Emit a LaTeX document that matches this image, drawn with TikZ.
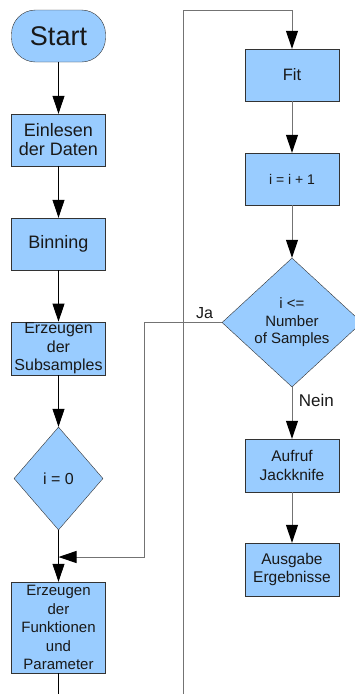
\documentclass[tikz,border=0pt]{standalone}
\usepackage{fontspec}
\setmainfont{Liberation Sans}
\usetikzlibrary{shapes.geometric,arrows.meta}
\definecolor{boxblue}{HTML}{99CCFF}
\begin{document}
\begin{tikzpicture}[x=1pt,y=-1pt]
	\tikzset{kasten/.style={rectangle, draw=black!80, fill=boxblue, minimum width=94pt, minimum height=52pt, inner sep=1pt, align=center, text=black!90},
		raute/.style={diamond, draw=black!80, fill=boxblue, inner sep=0pt, align=center, text=black!90},
		pfeil/.style={-{Triangle[width=12pt,length=18pt,color=black]}, line width=0.8pt},
		grau/.style={draw=black!55, line width=1pt}}
	\useasboundingbox (0,0) rectangle (355,694);

	% linke Spalte
	\node[kasten, rounded corners=24pt, font=\fontsize{27}{30}\selectfont] at (58.5, 36) (start) {Start};
	\node[kasten, font=\fontsize{18}{19}\selectfont] at (58.5, 140) (einlesen) {Einlesen\\der Daten};
	\node[kasten, font=\fontsize{18}{20}\selectfont] at (58.5, 244) (binning) {Binning};
	\node[kasten, minimum height=53pt, font=\fontsize{16}{18.5}\selectfont] at (58.5, 348.5) (subsamples) {Erzeugen\\der\\Subsamples};
	\node[raute, minimum width=89pt, minimum height=103pt, font=\fontsize{16}{18}\selectfont] at (58.5, 478.5) (inull) {i = 0};
	\node[kasten, minimum height=91pt, font=\fontsize{15}{18.5}\selectfont] at (58.5, 627.5) (funktionen) {Erzeugen\\der\\Funktionen\\und\\Parameter};
	\coordinate (merge) at (58.5, 557);
	\coordinate (unten) at (58.5, 694);

	% rechte Spalte
	\node[kasten, font=\fontsize{16.5}{19}\selectfont] at (292, 75) (fit) {Fit};
	\node[kasten, font=\fontsize{14}{17}\selectfont] at (292, 179) (inc) {i = i + 1};
	\node[raute, minimum width=140pt, minimum height=129pt, font=\fontsize{15}{17.5}\selectfont] at (292, 322.5) (abfrage) {i <=\\Number\\of Samples};
	\node[kasten, minimum height=53pt, font=\fontsize{15.5}{18.5}\selectfont] at (292, 465.5) (jackknife) {Aufruf\\Jackknife};
	\node[kasten, minimum height=53pt, font=\fontsize{15.5}{18.5}\selectfont] at (292, 569.5) (ausgabe) {Ausgabe\\Ergebnisse};
	\coordinate (schleife) at (183, 694);

	% Pfeile links
	\draw[pfeil] (start) -- (einlesen);
	\draw[pfeil] (einlesen) -- (binning);
	\draw[pfeil] (binning) -- (subsamples);
	\draw[pfeil] (subsamples) -- (inull);
	\draw[pfeil] (inull) -- (funktionen);
	\draw[line width=0.8pt] (funktionen) -- (unten);

	% Pfeile rechts
	\draw[pfeil, grau] (schleife) -- (183, 10) -| (fit);
	\draw[pfeil, grau] (fit) -- (inc);
	\draw[pfeil, grau] (inc) -- (abfrage);
	\draw[pfeil, grau] (abfrage) -- node[right, pos=0.25, xshift=3pt, text=black!90, font=\fontsize{17}{19}\selectfont] {Nein} (jackknife);
	\draw[pfeil, grau] (jackknife) -- (ausgabe);

	% Ja-Zweig
	\draw[pfeil, grau] (abfrage.west) -- node[above, pos=0.22, text=black!90, font=\fontsize{16}{18}\selectfont] {Ja} (144, 322.5) |- (merge);
\end{tikzpicture}
\end{document}
